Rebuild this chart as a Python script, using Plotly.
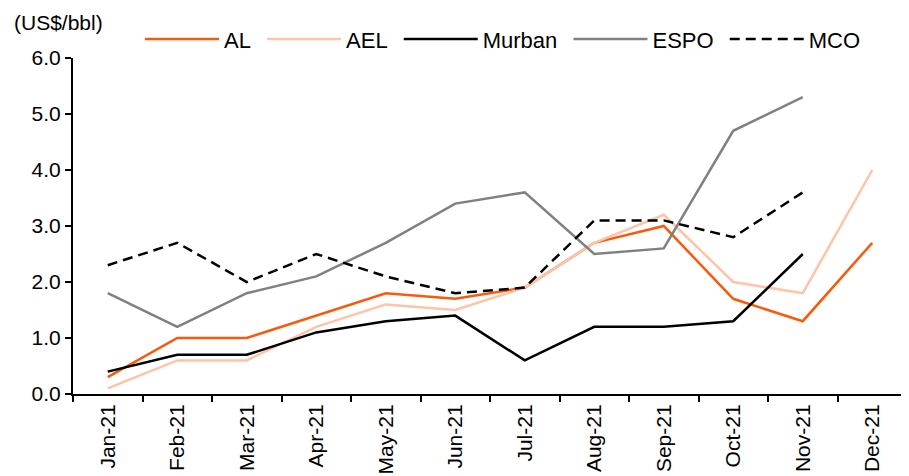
import plotly.graph_objects as go

months = ["Jan-21","Feb-21","Mar-21","Apr-21","May-21","Jun-21","Jul-21","Aug-21","Sep-21","Oct-21","Nov-21","Dec-21"]
al = [0.3,1.0,1.0,1.4,1.8,1.7,1.9,2.7,3.0,1.7,1.3,2.7]
ael = [0.1,0.6,0.6,1.2,1.6,1.5,1.9,2.7,3.2,2.0,1.8,4.0]
murban = [0.4,0.7,0.7,1.1,1.3,1.4,0.6,1.2,1.2,1.3,2.5,None]
espo = [1.8,1.2,1.8,2.1,2.7,3.4,3.6,2.5,2.6,4.7,5.3,None]
mco = [2.3,2.7,2.0,2.5,2.1,1.8,1.9,3.1,3.1,2.8,3.6,None]

series = [
    ("AL", al, "#F75A0C", "solid"),
    ("AEL", ael, "#FCC4A8", "solid"),
    ("Murban", murban, "#000000", "solid"),
    ("ESPO", espo, "#808080", "solid"),
    ("MCO", mco, "#000000", "10px,6px"),
]

# page has an 8px body margin; plot area in figure coords
L, T, B, R = 65, 48, 386, 899
W, H = R - L, B - T

fig = go.Figure()
for name, vals, col, dash in series:
    fig.add_trace(go.Scatter(x=months, y=vals, name=name + "\u00a0", mode="lines",
                             line=dict(color=col, width=2.5, dash=dash)))

font = dict(family="Liberation Sans, Arial, sans-serif", size=21, color="#000000")
fig.update_layout(
    width=909, height=476,
    margin=dict(l=L, r=909 - R, t=T, b=476 - B),
    paper_bgcolor="white", plot_bgcolor="white",
    font=font,
    showlegend=True,
    legend=dict(orientation="h", x=(138 - 6 - L) / W, xanchor="left",
                y=(B - 29) / H, yanchor="middle",
                font=dict(size=22), itemwidth=74, bgcolor="rgba(0,0,0,0)"),
    annotations=[dict(text="(US$/bbl)", x=(4 - L) / W, xref="paper", xanchor="left",
                      y=(B - 12) / H, yref="paper", yanchor="middle",
                      showarrow=False, font=dict(size=21))],
)
fig.update_xaxes(showline=True, linecolor="black", linewidth=2, ticks="outside",
                 ticklen=6, tickcolor="black", tickwidth=2, tickangle=-90,
                 tickson="boundaries", showgrid=False, range=[-0.5, 11.5],
                 tickfont=dict(size=21))
fig.update_yaxes(showline=True, linecolor="black", linewidth=2, ticks="outside",
                 ticklen=6, tickcolor="black", tickwidth=2, range=[0, 6],
                 dtick=1, tickformat=".1f", showgrid=False, zeroline=False,
                 tickfont=dict(size=21))
fig.write_html("out.html")
